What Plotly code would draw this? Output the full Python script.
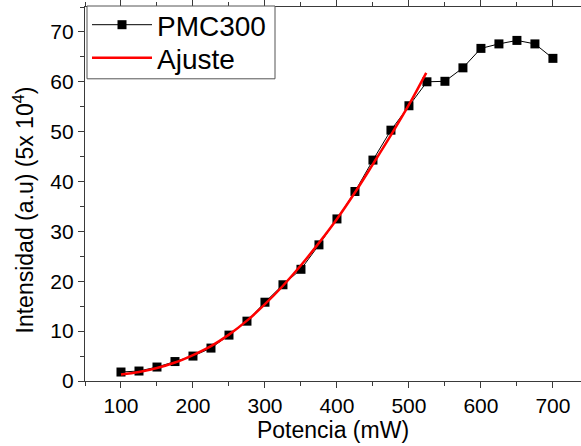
import plotly.graph_objects as go

potencia = [100, 125, 150, 175, 200, 225, 250, 275, 300, 325, 350, 375, 400,
            425, 450, 475, 500, 525, 550, 575, 600, 625, 650, 675, 700]
intensidad = [1.8, 2.0, 2.8, 3.9, 5.0, 6.6, 9.2, 12.0, 15.8, 19.3, 22.4, 27.3, 32.5,
              38.0, 44.3, 50.3, 55.2, 60.0, 60.1, 62.8, 66.7, 67.6, 68.3, 67.6, 64.7]

ajuste_x = [100, 125, 150, 175, 200, 225, 250, 275, 300, 325, 350, 375, 400,
            425, 450, 475, 500, 524]
ajuste_y = [1.3, 1.8, 2.6, 3.7, 5.2, 7.0, 9.3, 12.1, 15.4, 19.1, 23.2, 27.7, 32.5,
            37.8, 43.5, 49.3, 55.4, 61.8]

font_family = "Liberation Sans, Arial, sans-serif"
axis_color = "#3a3a3a"

W, H = 581, 446
ML, MR, MT, MB = 85, 0, 6, 65
PW, PH = W - ML - MR, H - MT - MB


def px_x(p):
    return (p - ML) / PW


def px_y(p):
    return (H - MB - p) / PH


fig = go.Figure()
fig.add_trace(go.Scatter(
    x=potencia, y=intensidad, mode="lines+markers", name="PMC300",
    line=dict(color="black", width=1),
    marker=dict(symbol="square", size=9, color="black"),
    legend="legend",
))
fig.add_trace(go.Scatter(
    x=ajuste_x, y=ajuste_y, mode="lines", name="Ajuste",
    line=dict(color="#ff0000", width=2.5, shape="spline"),
    legend="legend2",
))

legend_common = dict(
    xanchor="left", yanchor="top", bgcolor="rgba(0,0,0,0)", borderwidth=0,
    font=dict(size=28, family=font_family), itemwidth=60,
)

fig.update_layout(
    width=W, height=H,
    margin=dict(l=ML, r=MR, t=MT, b=MB),
    paper_bgcolor="white", plot_bgcolor="white",
    font=dict(family=font_family, color="black", size=21),
    showlegend=True,
    legend=dict(x=px_x(87), y=px_y(-1), **legend_common),
    legend2=dict(x=px_x(87), y=px_y(33), **legend_common),
    shapes=[dict(
        type="rect", xref="paper", yref="paper",
        x0=px_x(87), x1=px_x(275), y0=px_y(78), y1=px_y(5),
        line=dict(color="#555", width=1), fillcolor="white", layer="above",
    )],
    annotations=[dict(
        text="Intensidad (a.u) (5x 10<sup>4</sup>)", textangle=-90,
        xref="paper", yref="paper", x=px_x(24), y=px_y(210),
        xanchor="center", yanchor="middle", showarrow=False,
        font=dict(size=23, family=font_family),
    )],
    xaxis=dict(
        range=[50, 739], tickvals=[100, 200, 300, 400, 500, 600, 700],
        showgrid=False, zeroline=False,
        showline=True, linecolor=axis_color, linewidth=1.3, mirror="allticks",
        ticks="outside", ticklen=6, tickcolor=axis_color, tickwidth=1.3,
        minor=dict(dtick=50, ticks="outside", ticklen=4, tickcolor=axis_color, tickwidth=1.3),
        tickfont=dict(size=21),
        title=dict(text="Potencia (mW)", font=dict(size=23), standoff=5),
    ),
    yaxis=dict(
        range=[0, 75], tickvals=[0, 10, 20, 30, 40, 50, 60, 70],
        showgrid=False, zeroline=False,
        showline=True, linecolor=axis_color, linewidth=1.3,
        ticks="outside", ticklen=6, tickcolor=axis_color, tickwidth=1.3,
        minor=dict(dtick=5, ticks="outside", ticklen=4, tickcolor=axis_color, tickwidth=1.3),
        tickfont=dict(size=21),
    ),
)

fig.write_html("out.html")
